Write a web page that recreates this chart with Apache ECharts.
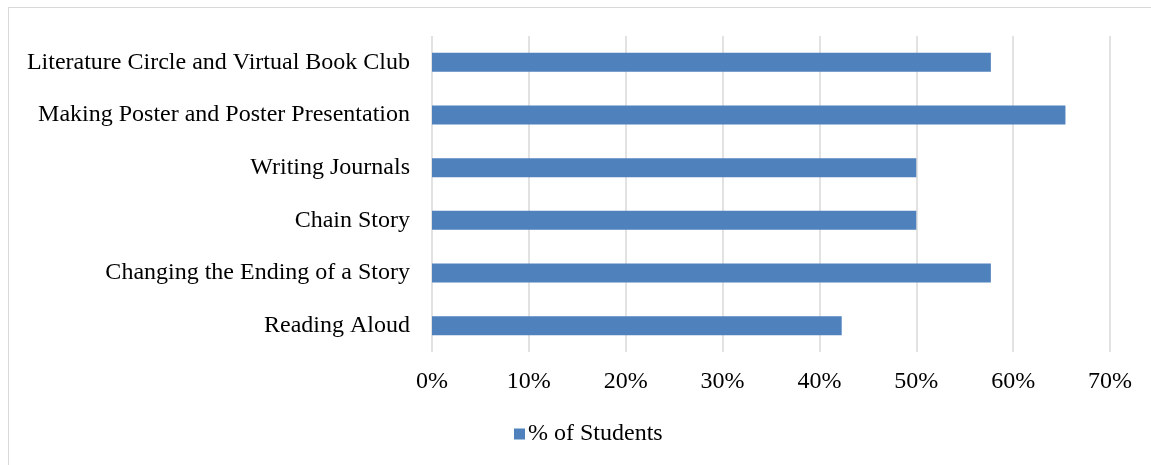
<!DOCTYPE html>
<html><head><meta charset="utf-8">
<script src="https://cdn.jsdelivr.net/npm/echarts@6/dist/echarts.min.js"></script>
<style>html,body{margin:0;padding:0;background:#fff;overflow:hidden}#c{width:1151px;height:465px}
#frame{position:absolute;left:8px;top:7px;width:1160px;height:470px;border:1px solid #d9d9d9;box-sizing:border-box;pointer-events:none}</style>
</head><body><div id="c"></div><div id="frame"></div>
<script>
const categories = ["Reading Aloud","Changing the Ending of a Story","Chain Story","Writing Journals","Making Poster and Poster Presentation","Literature Circle and Virtual Book Club"];
const seriesName = "% of Students";
const values = [42.3, 57.7, 50.0, 50.0, 65.4, 57.7];
const font = "'Liberation Serif','Times New Roman',serif";
const chart = echarts.init(document.getElementById('c'));
chart.setOption({
  animation:false,
  textStyle:{fontFamily:font},
  grid:{left:432,right:41,top:36,bottom:113,containLabel:false},
  legend:{data:[seriesName],top:417,left:509,itemWidth:11,itemHeight:11,icon:'rect',itemGap:5,
    textStyle:{fontFamily:font,fontSize:24,color:'#000',padding:[0,0,0,-2]}},
  xAxis:{type:'value',min:0,max:70,interval:10,
    axisLabel:{formatter:'{value}%',fontFamily:font,fontSize:24,color:'#000',margin:18},
    axisLine:{show:false},axisTick:{show:false},
    splitLine:{show:true,lineStyle:{color:'#d9d9d9',width:1.5}}},
  yAxis:{type:'category',data:categories,
    axisLabel:{fontFamily:font,fontSize:24,color:'#000',margin:22},
    axisLine:{show:false},axisTick:{show:false}},
  series:[{name:seriesName,type:'bar',data:values,barCategoryGap:'64%',
    itemStyle:{color:'#4f81bd'}}]
});
</script></body></html>
